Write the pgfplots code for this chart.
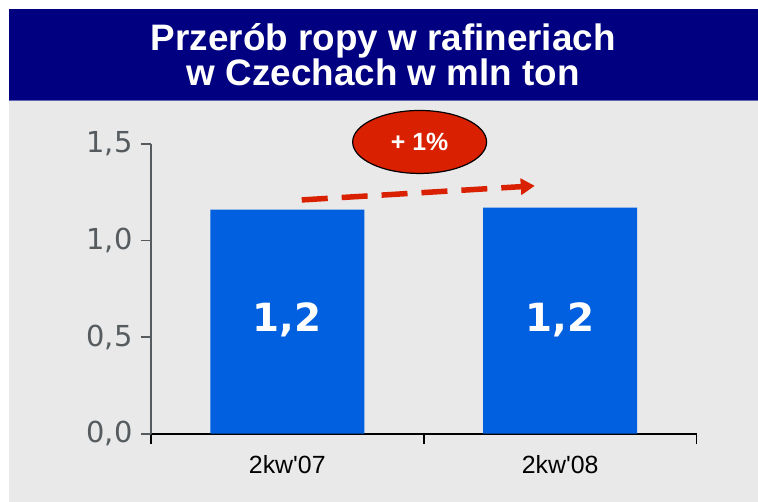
\documentclass[border=0pt]{standalone}
\usepackage{fontspec}
\setmainfont{Liberation Sans}[Ligatures=TeXOff]
\newfontfamily\dejavu{DejaVu Sans}
\usepackage{pgfplots}
\pgfplotsset{compat=1.18}
\usetikzlibrary{arrows.meta}
\definecolor{navy}{HTML}{000080}
\definecolor{bg}{HTML}{E9E9E9}
\definecolor{barblue}{HTML}{0060E0}
\definecolor{red1}{HTML}{D92000}
\definecolor{tickgray}{HTML}{555B5E}
\definecolor{navyline}{HTML}{6464B4}
\begin{document}
\begin{tikzpicture}
\fill[white] (0bp,0bp) rectangle (758bp,502bp);
\fill[bg] (9bp,0bp) rectangle (758bp,401bp);
\fill[navy] (9bp,401bp) rectangle (758bp,493bp);
\draw[navyline, line width=1bp] (9bp,401.5bp) -- (758bp,401.5bp);
\node[white, font=\fontsize{37}{35}\selectfont\bfseries, align=center] at (383.5bp,447.5bp) {Przerób ropy w rafineriach\\w Czechach w mln ton};
\begin{axis}[
  at={(151bp,68bp)}, anchor=south west, scale only axis,
  width=546bp, height=290bp,
  xmin=-0.5, xmax=1.5, ymin=0, ymax=1.5,
  clip=false,
  axis x line=bottom, axis y line=left, axis line style={-},
  x axis line style={black, line width=1.6bp},
  y axis line style={tickgray, line width=1.6bp},
  xtick={-0.5,0.5,1.5}, xticklabels={2kw'07,2kw'08}, x tick label as interval,
  ytick={0,0.5,1,1.5},
  tick align=outside, major tick length=10bp,
  x tick style={black, line width=1.6bp},
  y tick style={tickgray, line width=1.6bp},
  xticklabel style={font=\fontsize{25}{25}\selectfont, text=black, yshift=-8bp},
  yticklabel style={font=\dejavu\fontsize{29}{29}\selectfont, text=tickgray, xshift=-5bp},
  /pgf/number format/.cd, use comma, fixed, fixed zerofill, precision=1, assume math mode=true,
]
\addplot[ybar, bar width=154bp, bar shift=0pt, fill=barblue, draw=none]
  coordinates {(0,1.16) (1,1.17)};
\addplot[draw=none, mark=none, point meta=explicit, nodes near coords,
  every node near coord/.append style={anchor=center, text=white, font=\dejavu\bfseries\fontsize{39}{39}\selectfont}]
  coordinates {(0,0.59) [1.16] (1,0.59) [1.17]};
\draw[red1, line width=5.5bp, dash pattern=on 26bp off 14bp, -{Triangle[length=14bp,width=16bp]}]
  (axis cs:0.053,1.21) -- (axis cs:0.907,1.283);
\draw[fill=red1, draw=black, line width=1.2bp] (axis cs:0.485,1.51) ellipse [x radius=67bp, y radius=31.5bp];
\node[text=white, font=\bfseries\fontsize{25}{25}\selectfont] at (axis cs:0.485,1.51) {+ 1\%};
\end{axis}
\end{tikzpicture}
\end{document}
